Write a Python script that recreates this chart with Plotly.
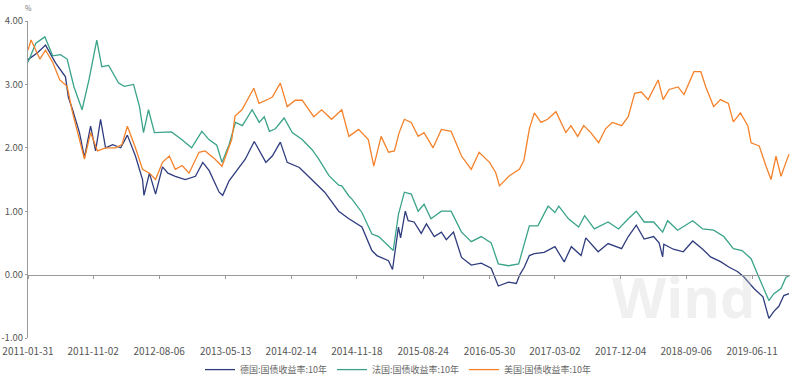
import plotly.graph_objects as go

# ---------------- data ----------------
de_dates = ["2011-01-31","2011-03-12","2011-04-15","2011-05-27","2011-07-08","2011-07-20","2011-08-07",
            "2011-09-05","2011-09-26","2011-10-22","2011-11-12","2011-12-03","2011-12-24","2012-01-23",
            "2012-02-26","2012-03-25","2012-04-28","2012-05-28","2012-06-03","2012-06-26","2012-07-22",
            "2012-08-20","2012-09-12","2012-10-13","2012-11-24","2013-01-06","2013-02-06","2013-03-05",
            "2013-04-16","2013-05-01","2013-05-28","2013-06-22","2013-08-04","2013-09-11","2013-10-15",
            "2013-10-30","2013-11-26","2013-12-30","2014-01-28","2014-03-20","2014-04-14","2014-05-24",
            "2014-07-05","2014-09-02","2014-10-15","2014-12-09","2015-01-20","2015-02-10","2015-03-31",
            "2015-04-17","2015-05-12","2015-05-21","2015-06-10","2015-06-22","2015-07-17","2015-08-16",
            "2015-09-07","2015-10-10","2015-11-09","2015-11-30","2015-12-30","2016-02-02","2016-03-14",
            "2016-04-25","2016-06-06","2016-07-06","2016-08-18","2016-09-20","2016-10-05","2016-10-24",
            "2016-11-14","2016-12-05","2017-01-15","2017-03-02","2017-04-10","2017-05-10","2017-06-20",
            "2017-07-10","2017-08-31","2017-10-12","2017-12-08","2018-01-05","2018-02-08","2018-03-13",
            "2018-04-22","2018-05-15","2018-05-30","2018-06-04","2018-07-14","2018-08-25","2018-10-04",
            "2018-11-15","2018-12-18","2019-01-31","2019-03-05","2019-04-10","2019-05-06","2019-06-19",
            "2019-07-27","2019-08-21","2019-09-11","2019-10-02","2019-10-23","2019-11-14"]
de_values = [3.39,3.50,3.62,3.34,3.12,2.80,2.60,
             2.24,1.85,2.34,1.95,2.45,2.00,2.05,
             2.00,2.20,1.87,1.50,1.25,1.60,1.27,
             1.70,1.60,1.55,1.50,1.55,1.77,1.64,
             1.30,1.25,1.48,1.61,1.82,2.10,1.87,
             1.77,1.87,2.09,1.77,1.69,1.60,1.45,
             1.30,1.00,0.88,0.75,0.38,0.30,0.22,
             0.08,0.75,0.58,1.00,0.85,0.83,0.65,
             0.80,0.60,0.67,0.55,0.67,0.27,0.15,
             0.18,0.10,-0.18,-0.12,-0.14,0.00,0.12,
             0.30,0.33,0.35,0.44,0.20,0.44,0.30,
             0.58,0.36,0.49,0.41,0.60,0.78,0.56,
             0.60,0.50,0.28,0.48,0.40,0.36,0.53,
             0.40,0.28,0.20,0.12,0.05,-0.03,-0.22,
             -0.35,-0.69,-0.58,-0.50,-0.33,-0.30]

fr_dates = ["2011-01-31","2011-03-05","2011-04-12","2011-05-15","2011-06-17","2011-07-15","2011-08-13",
            "2011-09-16","2011-10-15","2011-11-17","2011-12-08","2012-01-06","2012-02-17","2012-03-12",
            "2012-04-20","2012-05-15","2012-06-01","2012-06-22","2012-07-17","2012-08-30","2012-09-27",
            "2012-11-09","2012-12-21","2013-02-02","2013-03-04","2013-04-06","2013-04-28","2013-05-27",
            "2013-06-24","2013-07-23","2013-09-02","2013-10-02","2013-10-23","2013-11-14","2013-12-09",
            "2014-01-15","2014-02-18","2014-04-01","2014-05-13","2014-06-10","2014-07-23","2014-09-02",
            "2014-09-15","2014-10-15","2014-10-28","2014-12-09","2015-01-20","2015-02-18","2015-03-31",
            "2015-04-20","2015-05-12","2015-06-06","2015-07-05","2015-08-03","2015-08-28","2015-09-26",
            "2015-11-09","2015-12-20","2016-02-02","2016-03-14","2016-04-25","2016-06-06","2016-07-06",
            "2016-08-18","2016-09-30","2016-10-10","2016-10-22","2016-11-14","2016-12-20","2017-02-01",
            "2017-03-02","2017-03-18","2017-04-28","2017-06-10","2017-07-05","2017-08-15","2017-10-12",
            "2017-11-25","2018-01-05","2018-02-08","2018-03-13","2018-04-22","2018-05-30","2018-06-20",
            "2018-08-01","2018-10-04","2018-11-15","2018-12-31","2019-02-12","2019-03-24","2019-04-30",
            "2019-06-07","2019-07-06","2019-07-31","2019-08-21","2019-09-11","2019-10-11","2019-11-01",
            "2019-11-18"]
fr_values = [3.35,3.65,3.75,3.45,3.47,3.40,2.96,
             2.60,3.07,3.70,3.28,3.30,3.02,2.97,
             3.00,2.65,2.24,2.60,2.24,2.24,2.25,
             2.13,2.00,2.26,2.13,2.04,1.77,2.04,
             2.40,2.35,2.60,2.40,2.49,2.26,2.30,
             2.47,2.24,2.13,1.97,1.82,1.56,1.41,
             1.40,1.24,1.19,0.98,0.64,0.60,0.46,
             0.38,0.95,1.30,1.27,1.00,1.11,0.88,
             1.00,1.00,0.67,0.52,0.60,0.50,0.17,
             0.14,0.17,0.30,0.46,0.77,0.77,1.08,
             0.98,1.08,0.88,0.75,0.93,0.72,0.83,
             0.72,0.88,1.00,0.83,0.83,0.67,0.85,
             0.70,0.85,0.72,0.70,0.60,0.41,0.38,
             0.25,-0.01,-0.22,-0.41,-0.30,-0.22,-0.04,
             -0.01]

us_dates = ["2011-01-31","2011-02-13","2011-03-22","2011-04-15","2011-05-15","2011-06-14","2011-07-15",
            "2011-08-07","2011-09-05","2011-09-26","2011-10-22","2011-11-20","2011-12-24","2012-02-04",
            "2012-03-02","2012-03-25","2012-04-28","2012-05-28","2012-06-26","2012-07-22","2012-08-20",
            "2012-09-18","2012-10-13","2012-11-11","2012-12-10","2013-01-21","2013-02-16","2013-03-30",
            "2013-04-28","2013-06-08","2013-06-22","2013-07-21","2013-09-09","2013-10-01","2013-11-11",
            "2013-11-26","2013-12-30","2014-01-28","2014-03-03","2014-04-01","2014-05-20","2014-06-22",
            "2014-08-03","2014-09-15","2014-10-15","2014-11-25","2015-01-05","2015-01-28","2015-02-28",
            "2015-03-31","2015-04-25","2015-05-15","2015-06-06","2015-07-05","2015-08-03","2015-08-28",
            "2015-10-05","2015-11-09","2015-12-20","2016-02-02","2016-03-14","2016-04-16","2016-05-30",
            "2016-06-25","2016-07-11","2016-08-22","2016-10-03","2016-10-22","2016-11-14","2016-12-05",
            "2017-01-02","2017-01-30","2017-03-06","2017-03-27","2017-04-17","2017-05-08","2017-06-06",
            "2017-07-01","2017-07-31","2017-09-02","2017-10-01","2017-10-30","2017-12-08","2018-01-05",
            "2018-02-01","2018-03-01","2018-03-30","2018-05-11","2018-06-01","2018-06-26","2018-08-03",
            "2018-08-28","2018-10-09","2018-11-07","2018-11-28","2018-12-31","2019-01-29","2019-03-03",
            "2019-03-24","2019-04-23","2019-05-24","2019-06-07","2019-07-11","2019-08-09","2019-08-30",
            "2019-09-20","2019-10-11","2019-11-01","2019-11-14"]
us_values = [3.54,3.70,3.40,3.54,3.35,3.07,2.97,
             2.55,2.13,1.82,2.24,1.95,2.00,2.00,
             2.05,2.34,2.00,1.66,1.60,1.50,1.77,
             1.87,1.66,1.72,1.60,1.93,1.95,1.82,
             1.71,2.13,2.50,2.60,2.94,2.70,2.77,
             2.80,3.02,2.65,2.75,2.75,2.49,2.60,
             2.45,2.60,2.18,2.29,2.13,1.71,2.18,
             1.93,1.95,2.24,2.45,2.40,2.18,2.24,
             2.00,2.29,2.26,1.87,1.66,1.93,1.77,
             1.61,1.40,1.56,1.66,1.80,2.30,2.55,
             2.40,2.45,2.57,2.40,2.24,2.35,2.18,
             2.35,2.24,2.08,2.30,2.40,2.35,2.49,
             2.86,2.88,2.76,3.07,2.76,2.92,2.96,
             2.84,3.20,3.20,2.96,2.65,2.76,2.70,
             2.41,2.55,2.35,2.08,2.03,1.71,1.50,
             1.87,1.55,1.77,1.90]

series_names = ["德国:国债收益率:10年", "法国:国债收益率:10年", "美国:国债收益率:10年"]
series_colors = ["#2F3C7E", "#3AA38A", "#F5822A"]

tick_dates = ["2011-01-31","2011-11-02","2012-08-06","2013-05-13","2014-02-14","2014-11-18",
              "2015-08-24","2016-05-30","2017-03-02","2017-12-04","2018-09-06","2019-06-11"]
y_ticks = [-1, 0, 1, 2, 3, 4]
y_tick_labels = ["-1.00", "0.00", "1.00", "2.00", "3.00", "4.00"]
x_start, x_end = "2011-01-31", "2019-11-18"

# ---------------- figure ----------------
fig = go.Figure()
for d, v, name, col in zip([de_dates, fr_dates, us_dates], [de_values, fr_values, us_values],
                           series_names, series_colors):
    fig.add_trace(go.Scatter(x=d, y=v, mode="lines", name=name,
                             line=dict(color=col, width=1.3)))

font_fam = "Noto Sans CJK SC, Noto Sans, sans-serif"
axis_col = "#9a9a9a"

fig.update_layout(
    width=796, height=385,
    margin=dict(l=28, r=6, t=21, b=47, autoexpand=False),
    paper_bgcolor="white", plot_bgcolor="white",
    font=dict(family=font_fam, size=10, color="#555555"),
    showlegend=True,
    legend=dict(orientation="h", x=0.5, xanchor="center", xref="container",
                y=0.04, yanchor="middle", yref="container",
                font=dict(size=9, color="#666666"), itemwidth=30, tracegroupgap=0,
                bgcolor="rgba(0,0,0,0)"),
    xaxis=dict(type="date", range=[x_start, x_end], tickmode="array",
               tickvals=tick_dates, ticktext=tick_dates, showgrid=False, zeroline=False,
               showline=False, ticks="outside", ticklen=4, tickcolor="rgba(0,0,0,0)",
               automargin=False, tickfont=dict(size=10, color="#555555")),
    xaxis2=dict(type="date", matches="x", overlaying="x", anchor="free", position=0.2,
                tickmode="array", tickvals=tick_dates, showticklabels=False,
                showgrid=False, zeroline=False, showline=True, linecolor=axis_col, linewidth=1,
                ticks="outside", ticklen=3, tickcolor=axis_col, side="bottom"),
    yaxis=dict(range=[-1, 4], tickmode="array", tickvals=y_ticks, ticktext=y_tick_labels,
               showgrid=False, zeroline=False, showline=True, linecolor=axis_col, linewidth=1,
               ticks="outside", ticklen=2, tickcolor=axis_col, automargin=False,
               tickfont=dict(size=9.5, color="#555555")),
)

# invisible trace to activate the zero-line axis
fig.add_trace(go.Scatter(x=[x_start, x_end], y=[None, None], xaxis="x2", yaxis="y",
                         showlegend=False, hoverinfo="skip"))

fig.add_annotation(text="%", xref="paper", yref="paper", x=0.0, y=1.0, xanchor="center",
                   yanchor="bottom", yshift=6, showarrow=False, font=dict(size=7, color="#777777"))
fig.add_annotation(text="Wind", xref="paper", yref="paper", x=0.86, y=0.0, xanchor="center",
                   yanchor="bottom", yshift=2, showarrow=False,
                   font=dict(size=56, color="rgba(205,205,205,0.3)", family="Open Sans", weight=700))

fig.write_html("out.html", config={"displayModeBar": False},
               post_script="document.body.style.margin='0';document.body.style.overflow='hidden';")
